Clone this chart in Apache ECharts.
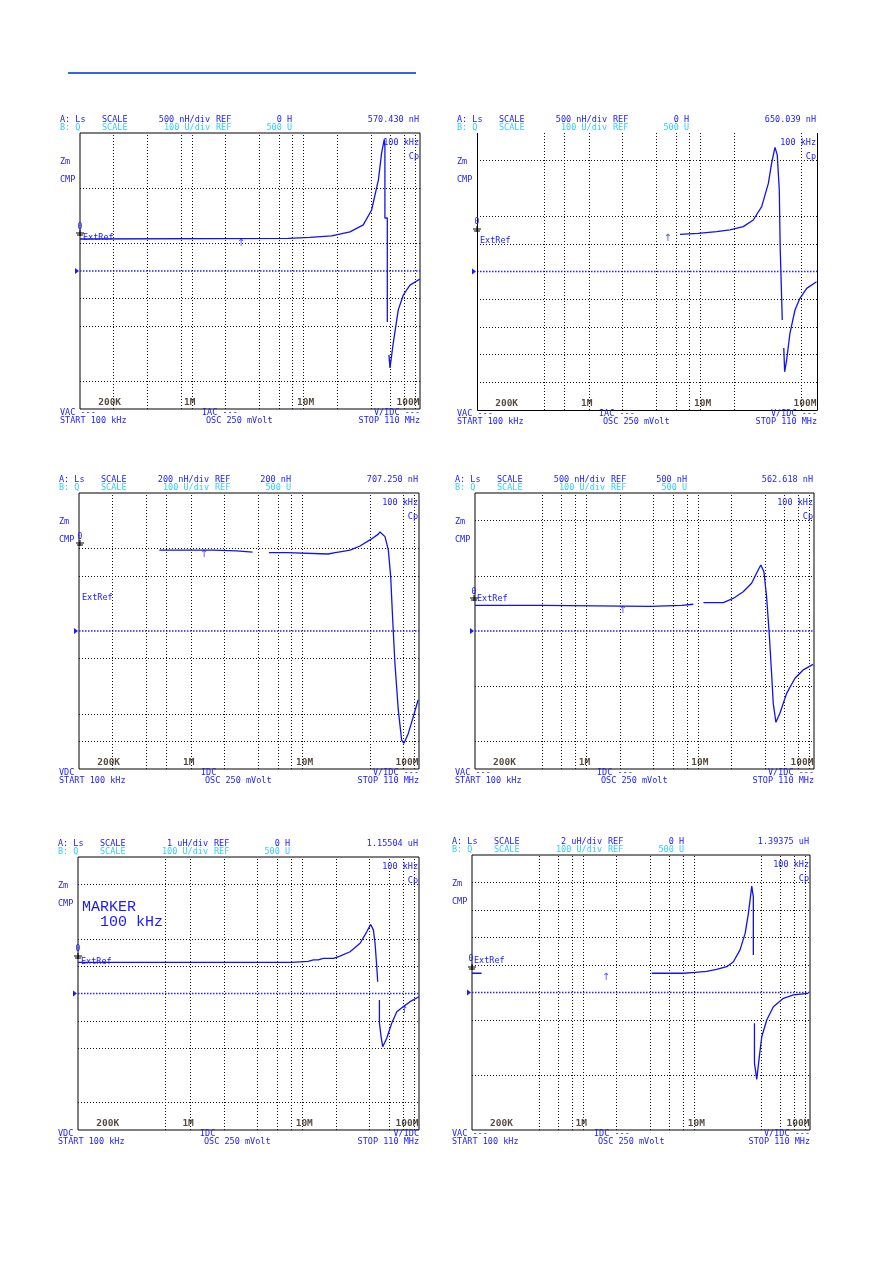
<!DOCTYPE html>
<html><head><meta charset="utf-8">
<script src="https://cdn.jsdelivr.net/npm/echarts@6/dist/echarts.min.js"></script>
<style>html,body{margin:0;padding:0;background:#fff}#c{width:892px;height:1263px}</style>
</head><body><div id="c"></div>
<script>
// ---------- data (frequency in Hz, trace level in screen divisions 0..10) ----------
const tickFreqs = [2e5, 1e6, 1e7, 1e8];
const tickLabels = ['200K', '1M', '10M', '100M'];
const sweepStart = 1e5, sweepStop = 1.1e8;

const p1Freq = [1e5, 7.3e6, 11.4e6, 17.8e6, 26e6, 34.2e6, 40.6e6, 46.7e6, 49.9e6, 52.7e6, 53.4e6, 53.4e6, 56.1e6, 56.1e6, 57e6, 58e6, 59.3e6, 63.4e6, 70.3e6, 78e6, 89.5e6, 110e6];
const p1Div  = [6.16, 6.18, 6.22, 6.27, 6.42, 6.67, 7.21, 8.30, 9.28, 9.77, 9.5, 6.92, 6.92, 3.15, null, 1.96, 1.49, 2.39, 3.59, 4.13, 4.49, 4.71];

const p2Freq = [6.54e6, 9.53e6, 13.9e6, 18.3e6, 24.1e6, 29.6e6, 35.2e6, 40.4e6, 43.2e6, 46.3e6, 48.5e6, 50.6e6, 51.5e6, 53.8e6, 54.5e6, 55.5e6, 56.5e6, 58.9e6, 63e6, 69.9e6, 77.4e6, 88.9e6, 109e6];
const p2Div  = [6.34, 6.38, 6.44, 6.50, 6.62, 6.86, 7.34, 8.18, 8.91, 9.48, 9.21, 7.94, 5.90, 3.25, null, 2.24, 1.38, 1.81, 2.77, 3.61, 4.03, 4.39, 4.63];

const p3Freq = [5.23e5, 1.59e6, 1.6e6, 2.57e6, 2.58e6, 3.57e6, 4.2e6, 5.0e6, 7.2e6, 7.3e6, 17e6, 19.5e6, 21.6e6, 26.6e6, 32.6e6, 40.1e6, 47.6e6, 49.2e6, 54.6e6, 58.5e6, 61.4e6, 64e6, 67e6, 71.8e6, 76.9e6, 80.7e6, 88.3e6, 97.7e6, 108e6];
const p3Div  = [7.93, 7.93, 7.90, 7.90, 7.86, 7.86, null, 7.84, 7.84, 7.79, 7.79, 7.84, 7.87, 7.93, 8.08, 8.30, 8.51, 8.59, 8.42, 7.93, 6.97, 5.40, 3.83, 2.14, 1.05, 0.93, 1.29, 1.89, 2.5];

const p4Freq = [1e5, 3.96e5, 3.97e5, 3.71e6, 3.72e6, 7.14e6, 7.15e6, 9.08e6, 10.1e6, 11.2e6, 16.9e6, 20.7e6, 25.5e6, 30.3e6, 34.7e6, 36.7e6, 39.1e6, 41.3e6, 43.6e6, 45.8e6, 47.4e6, 50.1e6, 54.4e6, 62.5e6, 74.2e6, 88e6, 108e6];
const p4Div  = [5.93, 5.93, 5.89, 5.89, 5.93, 5.93, 5.97, 5.97, null, 6.03, 6.03, 6.18, 6.42, 6.73, 7.21, 7.39, 7.15, 6.24, 4.92, 3.47, 2.38, 1.69, 2.02, 2.74, 3.29, 3.59, 3.79];

const p5Freq = [1e5, 8.05e6, 8.06e6, 11.3e6, 12.6e6, 13.9e6, 15.4e6, 19e6, 21.7e6, 26.7e6, 32.8e6, 37.6e6, 40.8e6, 43.1e6, 44.6e6, 46.2e6, 47.1e6, 48e6, 48.8e6, 48.8e6, 50.5e6, 52.2e6, 56.7e6, 62.8e6, 69.7e6, 79.8e6, 91.5e6, 110e6];
const p5Div  = [6.14, 6.14, 6.18, 6.18, 6.23, 6.23, 6.29, 6.29, 6.37, 6.53, 6.84, 7.26, 7.53, 7.33, 6.84, 5.98, 5.43, null, 4.76, 3.92, 3.42, 3.05, 3.36, 3.91, 4.33, 4.52, 4.70, 4.88];

const p6Freq = [1e5, 1.22e5, 1.5e5, 4.14e6, 7.98e6, 8e6, 10.2e6, 10.3e6, 12.9e6, 15.9e6, 19.6e6, 22.5e6, 25.8e6, 28.7e6, 30.7e6, 32.2e6, 32.9e6, 34e6, 34e6, 34.4e6, 34.8e6, 34.8e6, 36.5e6, 38.5e6, 40.5e6, 44.9e6, 51.5e6, 63.4e6, 78e6, 106e6];
const p6Div  = [5.70, 5.70, null, 5.70, 5.70, 5.73, 5.73, 5.77, 5.77, 5.84, 5.94, 6.12, 6.55, 7.15, 7.88, 8.55, 8.87, 8.48, 6.36, null, 3.88, 2.43, 1.84, 2.67, 3.39, 4.0, 4.48, 4.79, 4.91, 4.97];

// visible graticule lines (frequency / division); division 5 is the blue centre line
const p1VGrid = [2e5, 4e5, 8e5, 1e6, 2e6, 4e6, 6e6, 8e6, 1e7, 2e7, 4e7, 6e7, 8e7, 1e8];
const p2VGrid = [4e5, 6e5, 1e6, 2e6, 4e6, 6e6, 8e6, 1e7, 2e7, 8e7];
const p3VGrid = [2e5, 4e5, 6e5, 1e6, 2e6, 4e6, 6e6, 8e6, 1e7, 4e7, 8e7, 1e8];
const p4VGrid = [4e5, 6e5, 8e5, 1e6, 2e6, 4e6, 6e6, 8e6, 1e7, 2e7, 4e7, 6e7, 8e7, 1e8];
const p5VGrid = [6e5, 1e6, 2e6, 4e6, 6e6, 8e6, 1e7, 2e7, 4e7, 6e7, 8e7, 1e8];
const p6VGrid = [4e5, 6e5, 8e5, 1e6, 2e6, 4e6, 6e6, 8e6, 1e7, 4e7, 6e7, 8e7, 1e8];
const p1HGrid = [8, 6, 4, 3, 1];
const p2HGrid = [9, 7, 6, 4, 3, 2, 1];
const p3HGrid = [8, 7, 4, 2, 1];
const p4HGrid = [9, 7, 3, 1];
const p5HGrid = [9, 7, 6, 4, 3, 1];
const p6HGrid = [9, 8, 7, 6, 4, 2];
const centreDiv = 5;

// marker arrows
const markerFreq = [2.75e6, 5.08e6, 1.31e6, 2.11e6, 81e6, 1.6e6];
const markerDiv  = [6.16, 6.34, 7.93, 5.89, 4.52, 5.70];

// texts
const headA = [
  ['A: Ls', 'SCALE', '500 nH/div', 'REF', '0 H', '570.430 nH'],
  ['A: Ls', 'SCALE', '500 nH/div', 'REF', '0 H', '650.039 nH'],
  ['A: Ls', 'SCALE', '200 nH/div', 'REF', '200 nH', '707.250 nH'],
  ['A: Ls', 'SCALE', '500 nH/div', 'REF', '500 nH', '562.618 nH'],
  ['A: Ls', 'SCALE', '1 uH/div', 'REF', '0 H', '1.15504 uH'],
  ['A: Ls', 'SCALE', '2 uH/div', 'REF', '0 H', '1.39375 uH']
];
const headB = ['B: Q', 'SCALE', '100 U/div', 'REF', '500 U'];
const foot1 = [
  ['VAC ---', 'IAC ---', 'V/IDC ---'],
  ['VAC ---', 'IAC ---', 'V/IDC ---'],
  ['VDC', 'IDC', 'V/IDC ---'],
  ['VAC ---', 'IDC ---', 'V/IDC ---'],
  ['VDC', 'IDC', 'V/IDC'],
  ['VAC ---', 'IDC ---', 'V/IDC ---']
];
const foot2 = ['START 100 kHz', 'OSC 250 mVolt', 'STOP 110 MHz'];
const sideLabels = ['Zm', 'CMP'];
const cornerLabels = ['100 kHz', 'Cp'];
const markerNote = ['MARKER', '100 kHz'];

// ---------- layout ----------
const boxes = [
  {l: 80, t: 133, w: 340, h: 276, zero: [80, 227], gnd: [80, 233], ext: [83, 238], openTop: false},
  {l: 477, t: 133, w: 340, h: 277, zero: [477, 222], gnd: [477, 229], ext: [480, 241], openTop: true},
  {l: 79, t: 493, w: 340, h: 276, zero: [80, 537], gnd: [80, 543], ext: [82, 598], openTop: false},
  {l: 475, t: 493, w: 339, h: 276, zero: [474, 592], gnd: [474, 598], ext: [477, 599], openTop: false},
  {l: 78, t: 857, w: 341, h: 273, zero: [78, 949], gnd: [78, 956], ext: [81, 962], openTop: false},
  {l: 472, t: 855, w: 338, h: 275, zero: [471, 959], gnd: [472, 967], ext: [474, 961], openTop: false}
];
const panels = [
  [p1Freq, p1Div, p1VGrid, p1HGrid], [p2Freq, p2Div, p2VGrid, p2HGrid],
  [p3Freq, p3Div, p3VGrid, p3HGrid], [p4Freq, p4Div, p4VGrid, p4HGrid],
  [p5Freq, p5Div, p5VGrid, p5HGrid], [p6Freq, p6Div, p6VGrid, p6HGrid]
];
const tickNudge = [[-4, 'center'], [-2, 'center'], [2, 'center'], [4, 'right']];

const BLUE = '#1a1aff', CYAN = '#33ccff', TRACE = '#1212f0', INK = '#2a1c0c';
const MONO = '"DejaVu Sans Mono", monospace';
const small = '8.5px ' + MONO;

const grids = [], xAxes = [], yAxes = [], series = [], graphics = [];
function txt(x, y, s, color, font, align) {
  graphics.push({type: 'text', x: x, y: y, silent: true, z: 50,
    style: {text: s, fill: color, font: font || small, align: align || 'left', verticalAlign: 'middle',
            textAlign: align || 'left', textVerticalAlign: 'middle'}});
}
function seg(x1, y1, x2, y2, color, w) {
  graphics.push({type: 'line', silent: true, z: 50, shape: {x1: x1, y1: y1, x2: x2, y2: y2},
    style: {stroke: color, lineWidth: w || 1}});
}

// top rule
seg(68, 73, 416, 73, '#3366ee', 2);

panels.forEach((p, i) => {
  const b = boxes[i];
  const [freq, div, vg, hg] = p;
  const L = b.l, R = b.l + b.w, T = b.t, B = b.t + b.h;
  grids.push({left: L, top: T, width: b.w, height: b.h, show: !b.openTop,
    borderColor: '#000', borderWidth: 1, backgroundColor: 'transparent'});
  if (b.openTop) {   // screen frame drawn without its top edge
    seg(L + 0.5, T, L + 0.5, B + 0.5, '#000', 1);
    seg(R + 0.5, T, R + 0.5, B + 0.5, '#000', 1);
    seg(L + 0.5, B + 0.5, R + 0.5, B + 0.5, '#000', 1);
  }
  xAxes.push({gridIndex: i, type: 'log', logBase: 10, min: sweepStart, max: sweepStop, show: false});
  yAxes.push({gridIndex: i, type: 'value', min: 0, max: 10, interval: 1, show: false});

  // graticule (black dotted)
  series.push({type: 'scatter', xAxisIndex: i, yAxisIndex: i, data: [], silent: true, z: 1,
    markLine: {silent: true, symbol: ['none', 'none'], label: {show: false}, animation: false,
      lineStyle: {color: '#111', type: [1, 2], width: 1}, emphasis: {disabled: true},
      data: vg.map(f => ({xAxis: f})).concat(hg.map(d => ({yAxis: d})))}});
  // centre line (blue dotted) across the sweep
  series.push({type: 'line', xAxisIndex: i, yAxisIndex: i, showSymbol: false, silent: true, z: 2,
    animation: false, lineStyle: {color: '#2222ff', type: [1.5, 1.5], width: 1.4},
    data: [[sweepStart, centreDiv], [sweepStop, centreDiv]]});

  // trace
  series.push({type: 'line', xAxisIndex: i, yAxisIndex: i, showSymbol: false, silent: true,
    connectNulls: false, animation: false, z: 5,
    lineStyle: {color: TRACE, width: 1.3},
    data: freq.map((f, k) => [f, div[k] === null ? '-' : div[k]])});

  // tick labels inside bottom of screen
  series.push({type: 'scatter', xAxisIndex: i, yAxisIndex: i, symbolSize: 0, silent: true, z: 6,
    animation: false,
    data: tickFreqs.map((f, k) => ({value: [f, 0],
      label: {show: true, formatter: tickLabels[k], position: 'top', distance: 1,
        offset: [tickNudge[k][0], 0], align: tickNudge[k][1],
        color: INK, fontFamily: 'DejaVu Sans Mono', fontSize: 9.5, fontWeight: 'bold'}}))});

  // marker arrow
  series.push({type: 'scatter', xAxisIndex: i, yAxisIndex: i, symbolSize: 0, silent: true, z: 6,
    animation: false,
    data: [{value: [markerFreq[i], markerDiv[i]],
      label: {show: true, formatter: '\u2191', position: 'bottom', distance: -1,
        color: BLUE, fontFamily: 'DejaVu Sans', fontSize: 10}}]});

  // header lines
  const ha = headA[i];
  txt(L - 20, T - 13, ha[0], BLUE);
  txt(L + 22, T - 13, ha[1], BLUE);
  txt(L + 130, T - 13, ha[2], BLUE, small, 'right');
  txt(L + 136, T - 13, ha[3], BLUE);
  txt(L + 212, T - 13, ha[4], BLUE, small, 'right');
  txt(R - 1, T - 13, ha[5], BLUE, small, 'right');
  txt(L - 20, T - 5.5, headB[0], CYAN);
  txt(L + 22, T - 5.5, headB[1], CYAN);
  txt(L + 130, T - 5.5, headB[2], CYAN, small, 'right');
  txt(L + 136, T - 5.5, headB[3], CYAN);
  txt(L + 212, T - 5.5, headB[4], CYAN, small, 'right');

  // footer lines
  txt(L - 20, B + 4, foot1[i][0], BLUE);
  txt(L + 122, B + 4, foot1[i][1], BLUE);
  txt(R, B + 4, foot1[i][2], BLUE, small, 'right');
  txt(L - 20, B + 11.5, foot2[0], BLUE);
  txt(L + 126, B + 11.5, foot2[1], BLUE);
  txt(R, B + 11.5, foot2[2], BLUE, small, 'right');

  // side labels
  txt(L - 20, T + 29, sideLabels[0], BLUE);
  txt(L - 20, T + 47, sideLabels[1], BLUE);
  // corner labels
  txt(R - 1, T + 10, cornerLabels[0], BLUE, small, 'right');
  txt(R - 1, T + 24, cornerLabels[1], BLUE, small, 'right');

  // reference symbols
  txt(b.zero[0], b.zero[1], '0', BLUE, '8px ' + MONO, 'center');
  const gx = b.gnd[0], gy = b.gnd[1];
  seg(gx, gy - 3, gx, gy + 3, '#000', 1);
  seg(gx - 4, gy, gx + 4, gy, '#000', 1);
  seg(gx - 3, gy + 2, gx + 3, gy + 2, '#000', 1);
  txt(b.ext[0], b.ext[1], 'ExtRef', BLUE, '8.5px ' + MONO);
  // B reference pointer at centre line
  const cy = T + b.h / 2;
  graphics.push({type: 'polygon', silent: true, z: 50,
    shape: {points: [[L - 5, cy - 3], [L - 1, cy], [L - 5, cy + 3]]}, style: {fill: BLUE}});
});

// marker note in bottom-left screen
txt(82, 907, markerNote[0], BLUE, '15px "Liberation Mono", monospace');
txt(100, 922, markerNote[1], BLUE, '15px "Liberation Mono", monospace');

const chart = echarts.init(document.getElementById('c'), null, {renderer: 'canvas'});
chart.setOption({
  animation: false,
  backgroundColor: '#fff',
  grid: grids, xAxis: xAxes, yAxis: yAxes, series: series, graphic: graphics
});
</script></body></html>
